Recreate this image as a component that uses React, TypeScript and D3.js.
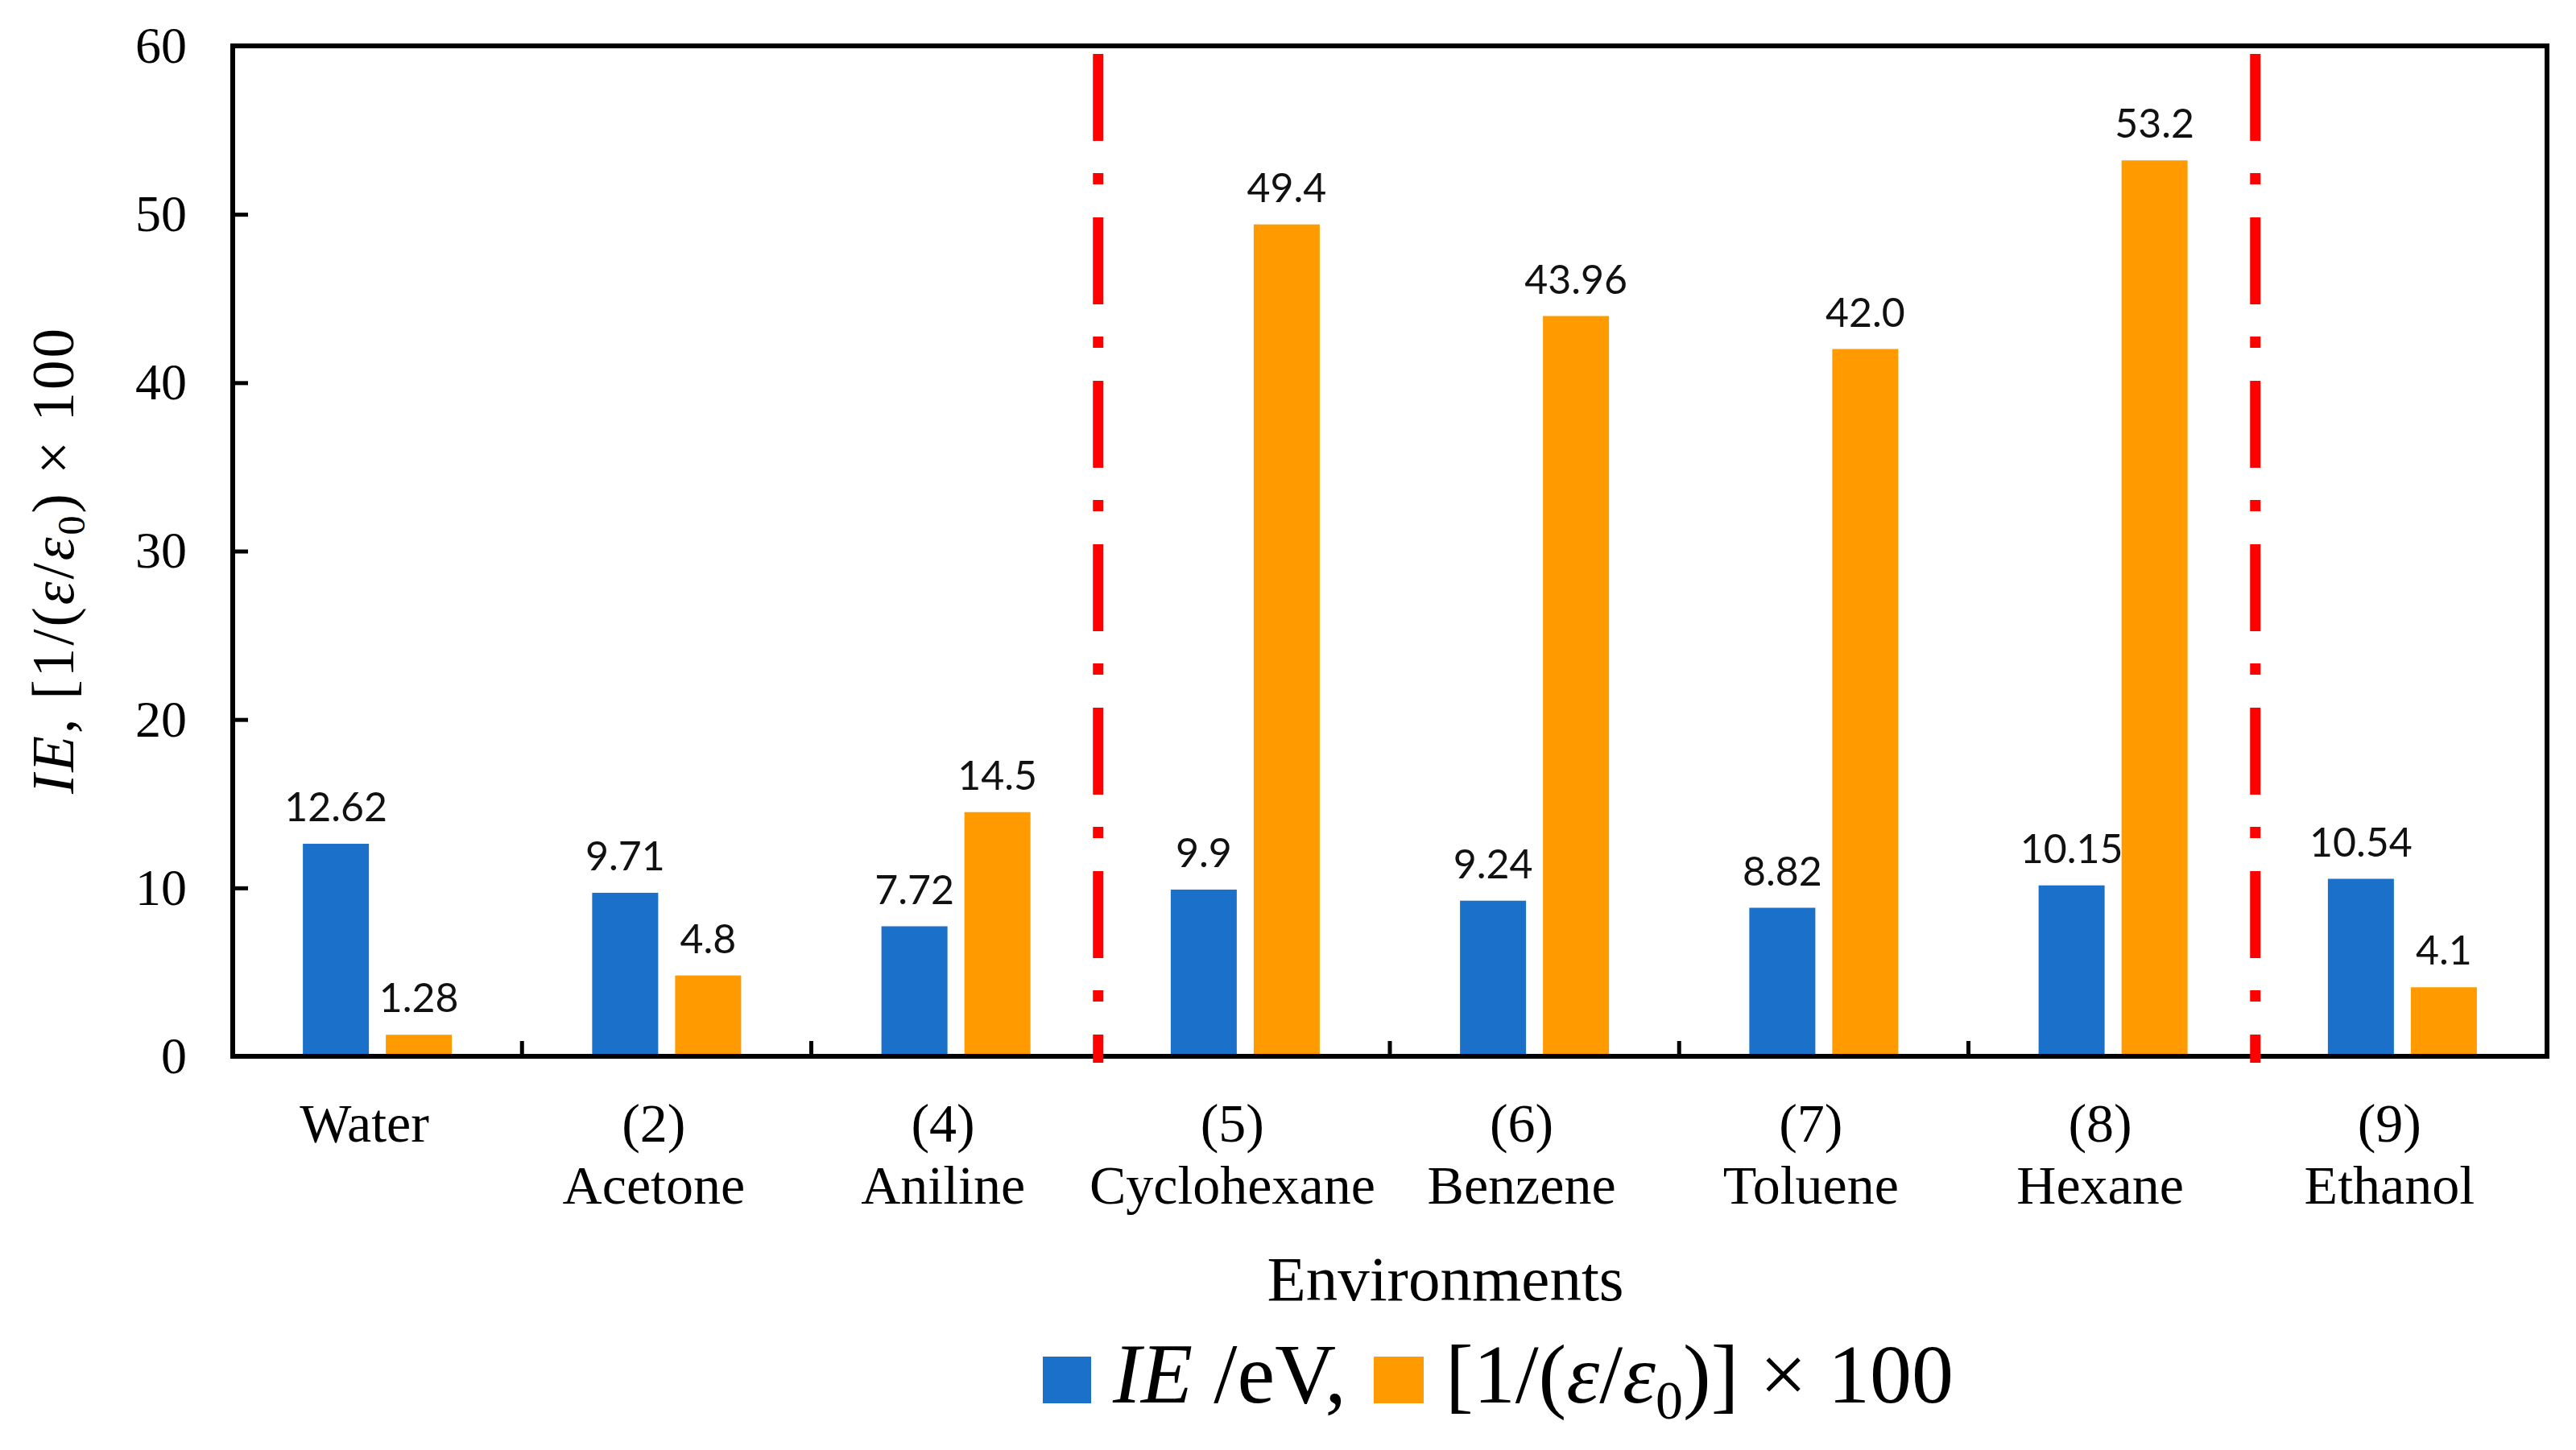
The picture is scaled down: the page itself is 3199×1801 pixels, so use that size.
import React, { useEffect, useRef } from 'react';
import * as d3 from 'd3';

// categories on the x axis (second line after \n)
const categories = [
  'Water',
  '(2)\nAcetone',
  '(4)\nAniline',
  '(5)\nCyclohexane',
  '(6)\nBenzene',
  '(7)\nToluene',
  '(8)\nHexane',
  '(9)\nEthanol',
];

const seriesKeys = ['ie', 'eps'];

const ieValues = [12.62, 9.71, 7.72, 9.9, 9.24, 8.82, 10.15, 10.54];
const ieLabels = ['12.62', '9.71', '7.72', '9.9', '9.24', '8.82', '10.15', '10.54'];

const epsValues = [1.28, 4.8, 14.5, 49.4, 43.96, 42.0, 53.2, 4.1];
const epsLabels = ['1.28', '4.8', '14.5', '49.4', '43.96', '42.0', '53.2', '4.1'];

// red dash-dot separators sit after these categories
const dividersAfter = ['(4)\nAniline', '(8)\nHexane'];

const yTicks = [0, 10, 20, 30, 40, 50, 60];

const BLUE = '#1b71c9';
const ORANGE = '#ff9a00';
const SERIF = '"Liberation Serif", "Times New Roman", serif';
const SANS = 'Lato, "Open Sans", sans-serif';

const W = 3199;
const H = 1801;
const margin = { left: 289, right: 36, top: 57, bottom: 489 };

const App: React.FC = () => {
  const axisRef = useRef<SVGGElement>(null);

  const innerW = W - margin.left - margin.right;
  const innerH = H - margin.top - margin.bottom;

  const x0 = d3.scaleBand<string>().domain(categories).range([0, innerW]).padding(0);
  const groupW = 185;
  const x1 = d3
    .scaleBand<string>()
    .domain(seriesKeys)
    .range([(x0.bandwidth() - groupW) / 2, (x0.bandwidth() + groupW) / 2])
    .paddingInner(0.204);
  const y = d3.scaleLinear().domain([0, 60]).range([innerH, 0]);

  const rows = categories.map((c, i) => ({
    cat: c,
    bars: [
      { key: 'ie', value: ieValues[i], label: ieLabels[i], color: BLUE },
      { key: 'eps', value: epsValues[i], label: epsLabels[i], color: ORANGE },
    ],
  }));

  useEffect(() => {
    if (!axisRef.current) return;
    const g = d3.select(axisRef.current);
    g.selectAll('*').remove();

    // y axis, ticks pointing inward
    const yAxis = d3
      .axisLeft(y)
      .tickValues(yTicks)
      .tickSize(-19)
      .tickPadding(57)
      .tickFormat(d3.format('d'));
    const yg = g.append('g').call(yAxis);
    yg.select('.domain').remove();
    yg.selectAll('line').attr('stroke', '#000').attr('stroke-width', 5);
    yg.selectAll('text')
      .attr('font-family', SERIF)
      .attr('font-size', 64)
      .attr('fill', '#000');

    // x ticks at category boundaries, pointing up
    const bounds = d3.range(1, categories.length).map(i => i * x0.step());
    g.append('g')
      .selectAll('line')
      .data(bounds)
      .enter()
      .append('line')
      .attr('x1', d => d)
      .attr('x2', d => d)
      .attr('y1', innerH)
      .attr('y2', innerH - 19)
      .attr('stroke', '#000')
      .attr('stroke-width', 5);

    // frame
    g.append('rect')
      .attr('x', 0)
      .attr('y', 0)
      .attr('width', innerW)
      .attr('height', innerH)
      .attr('fill', 'none')
      .attr('stroke', '#000')
      .attr('stroke-width', 6);

    // category labels
    const lab = g
      .append('g')
      .selectAll('text')
      .data(categories)
      .enter()
      .append('text')
      .attr('text-anchor', 'middle')
      .attr('font-family', SERIF)
      .attr('font-size', 68)
      .attr('fill', '#000');
    lab.each(function (d) {
      const t = d3.select(this);
      const cx = (x0(d) as number) + x0.bandwidth() / 2 - 16;
      d.split('\n').forEach((line, k) => {
        t.append('tspan')
          .attr('x', cx)
          .attr('y', innerH + 106 + k * 77)
          .text(line);
      });
    });

    // red separators
    g.append('g')
      .selectAll('line')
      .data(dividersAfter)
      .enter()
      .append('line')
      .attr('x1', d => (x0(d) as number) + x0.bandwidth() - 3)
      .attr('x2', d => (x0(d) as number) + x0.bandwidth() - 3)
      .attr('y1', 10)
      .attr('y2', innerH + 8)
      .attr('stroke', '#ff0000')
      .attr('stroke-width', 13)
      .attr('stroke-dasharray', '108 40 14 41');
  }, []);

  return (
    <svg
      width={W}
      height={H}
      viewBox={`0 0 ${W} ${H}`}
      style={{ position: 'absolute', left: 0, top: 0, background: '#fff' }}
    >
      <rect x={0} y={0} width={W} height={H} fill="#fff" />
      <g transform={`translate(${margin.left},${margin.top})`}>
        {rows.map(r => (
          <g key={r.cat} transform={`translate(${x0(r.cat)},0)`}>
            {r.bars.map(b => (
              <g key={b.key}>
                <rect
                  x={x1(b.key)}
                  y={y(b.value)}
                  width={x1.bandwidth()}
                  height={y(0) - y(b.value)}
                  fill={b.color}
                />
                <text
                  x={(x1(b.key) as number) + x1.bandwidth() / 2}
                  y={y(b.value) - 28}
                  textAnchor="middle"
                  fontFamily={SANS}
                  fontSize={50}
                  fill="#111"
                >
                  {b.label}
                </text>
              </g>
            ))}
          </g>
        ))}
        <g ref={axisRef} />
      </g>

      {/* y axis title */}
      <text
        transform={`translate(91,697) rotate(-90)`}
        textAnchor="middle"
        fontFamily={SERIF}
        fontSize={73}
        fill="#000"
        textLength={578}
        lengthAdjust="spacing"
      >
        <tspan fontStyle="italic">IE</tspan>
        <tspan>, [1/(</tspan>
        <tspan fontStyle="italic">ε</tspan>
        <tspan>/</tspan>
        <tspan fontStyle="italic">ε</tspan>
        <tspan fontSize={48} dy={14}>0</tspan>
        <tspan dy={-14}>) × 100</tspan>
      </text>

      {/* x axis title */}
      <text x={1795} y={1615} textAnchor="middle" fontFamily={SERIF} fontSize={79} fill="#000">
        Environments
      </text>

      {/* legend */}
      <rect x={1295} y={1685} width={60} height={58} fill={BLUE} />
      <text x={1382} y={1742} fontFamily={SERIF} fontSize={105} fill="#000">
        <tspan fontStyle="italic">IE</tspan>
        <tspan> /eV,</tspan>
      </text>
      <rect x={1706} y={1685} width={62} height={58} fill={ORANGE} />
      <text x={1795} y={1742} fontFamily={SERIF} fontSize={104} fill="#000">
        <tspan>[1/(</tspan>
        <tspan fontStyle="italic">ε</tspan>
        <tspan>/</tspan>
        <tspan fontStyle="italic">ε</tspan>
        <tspan fontSize={68} dy={20}>0</tspan>
        <tspan dy={-20}>)] × 100</tspan>
      </text>
    </svg>
  );
};

export default App;
